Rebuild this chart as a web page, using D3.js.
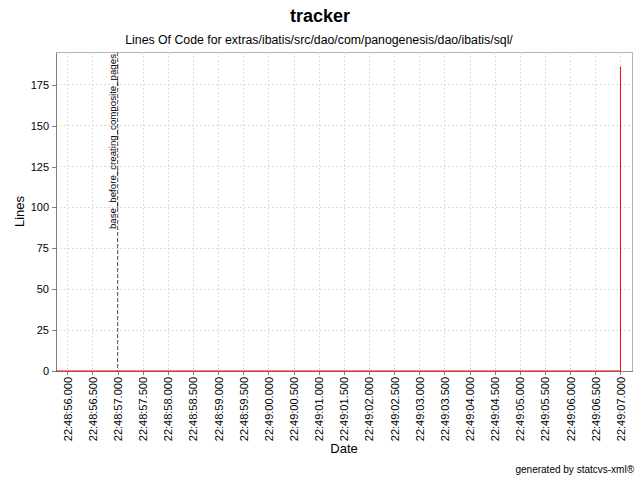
<!DOCTYPE html>
<head>
    <meta charset="utf-8" />
    <title>tracker</title>
</head>
<style>
    body {
        margin: 0;
        background-color: #FFFFFF;
        font-family: "Liberation Sans", Arial, sans-serif;
    }

    .grid line {
        stroke: #DCDCDC;
        stroke-width: 1px;
        stroke-dasharray: 2, 2;
        shape-rendering: crispEdges;
    }

    .axis path,
    .axis line {
        fill: none;
        stroke: #808080;
        stroke-width: 1px;
        shape-rendering: crispEdges;
    }

    .axis text {
        font-size: 11px;
        fill: #000;
    }
</style>
<body>
    <svg id="chart" width="640" height="480"></svg>
    <script src="https://d3js.org/d3.v7.min.js"></script>
    <script>
        // data
        var dates = ["22:48:55.775", "22:49:07.000", "22:49:07.000"];
        var lines = [0, 0, 186];

        var xTickLabels = ["22:48:56.000", "22:48:56.500", "22:48:57.000", "22:48:57.500",
            "22:48:58.000", "22:48:58.500", "22:48:59.000", "22:48:59.500",
            "22:49:00.000", "22:49:00.500", "22:49:01.000", "22:49:01.500",
            "22:49:02.000", "22:49:02.500", "22:49:03.000", "22:49:03.500",
            "22:49:04.000", "22:49:04.500", "22:49:05.000", "22:49:05.500",
            "22:49:06.000", "22:49:06.500", "22:49:07.000"];
        var yTicks = [0, 25, 50, 75, 100, 125, 150, 175];
        var xDomain = ["22:48:55.775", "22:49:07.229"];
        var yDomain = [0, 195];

        var markerDate = "22:48:57.000";
        var markerLabel = "base_before_creating_composite_pages";

        var margin = {
            top: 52,
            right: 8,
            bottom: 109,
            left: 56
        };
        var width = 640 - margin.left - margin.right,
            height = 480 - margin.top - margin.bottom;

        var parse = d3.timeParse("%H:%M:%S.%L");
        var fmt = d3.timeFormat("%H:%M:%S.%L");

        var svg = d3.select("#chart");

        // titles
        svg.append("text")
            .attr("x", 320)
            .attr("y", 22)
            .attr("text-anchor", "middle")
            .attr("font-size", "18px")
            .attr("font-weight", "bold")
            .text("tracker");

        svg.append("text")
            .attr("x", 319)
            .attr("y", 44)
            .attr("text-anchor", "middle")
            .attr("font-size", "12.3px")
            .text("Lines Of Code for extras/ibatis/src/dao/com/panogenesis/dao/ibatis/sql/");

        var g = svg.append("g")
            .attr("transform", "translate(" + margin.left + "," + margin.top + ")");

        var x = d3.scaleTime()
            .domain(xDomain.map(parse))
            .range([0, width]);
        var y = d3.scaleLinear()
            .domain(yDomain)
            .range([height, 0]);

        var xTicks = xTickLabels.map(parse);

        // plot border
        g.append("rect")
            .attr("width", width)
            .attr("height", height)
            .attr("fill", "#fff")
            .attr("stroke", "#B4B4B4")
            .attr("shape-rendering", "crispEdges");

        // grid
        g.append("g")
            .attr("class", "grid")
            .selectAll("line")
            .data(xTicks)
            .enter().append("line")
            .attr("x1", function(d) { return Math.round(x(d)) + 0.5; })
            .attr("x2", function(d) { return Math.round(x(d)) + 0.5; })
            .attr("y1", 0)
            .attr("y2", height);

        g.append("g")
            .attr("class", "grid")
            .selectAll("line")
            .data(yTicks.slice(1))
            .enter().append("line")
            .attr("x1", 0)
            .attr("x2", width)
            .attr("y1", function(d) { return y(d); })
            .attr("y2", function(d) { return y(d); });

        // axes
        var xAxis = g.append("g")
            .attr("class", "axis x")
            .attr("transform", "translate(0," + height + ")")
            .call(d3.axisBottom(x).tickValues(xTicks).tickFormat(fmt).tickSizeInner(4).tickSizeOuter(0));

        xAxis.selectAll("text")
            .attr("transform", "rotate(-90)")
            .attr("text-anchor", "end")
            .attr("x", -6)
            .attr("y", 0)
            .attr("dy", "0.35em");

        g.append("g")
            .attr("class", "axis y")
            .call(d3.axisLeft(y).tickValues(yTicks).tickSizeInner(4).tickSizeOuter(0).tickPadding(3));

        // marker
        var mx = x(parse(markerDate));
        g.append("line")
            .attr("x1", mx)
            .attr("x2", mx)
            .attr("y1", 0)
            .attr("y2", height)
            .attr("stroke", "#606060")
            .attr("stroke-width", 1)
            .attr("stroke-dasharray", "4,2");

        g.append("text")
            .attr("transform", "translate(" + (mx - 2) + ",2) rotate(-90)")
            .attr("text-anchor", "end")
            .attr("font-size", "9.7px")
            .attr("fill", "#000")
            .text(markerLabel);

        // series
        var data = dates.map(function(d, i) {
            return { date: parse(d), value: lines[i] };
        });

        var line = d3.line()
            .x(function(d) { return x(d.date); })
            .y(function(d) { return y(d.value); });

        g.append("path")
            .datum(data)
            .attr("fill", "none")
            .attr("stroke", "#FF0000")
            .attr("stroke-width", 1)
            .attr("d", line);

        // axis labels
        svg.append("text")
            .attr("transform", "translate(24," + (margin.top + height / 2) + ") rotate(-90)")
            .attr("text-anchor", "middle")
            .attr("font-size", "13px")
            .text("Lines");

        svg.append("text")
            .attr("x", margin.left + width / 2)
            .attr("y", 453)
            .attr("text-anchor", "middle")
            .attr("font-size", "13px")
            .text("Date");

        svg.append("text")
            .attr("x", 634)
            .attr("y", 473)
            .attr("text-anchor", "end")
            .attr("font-size", "10px")
            .text("generated by statcvs-xml\u00AE");
    </script>
</body>
